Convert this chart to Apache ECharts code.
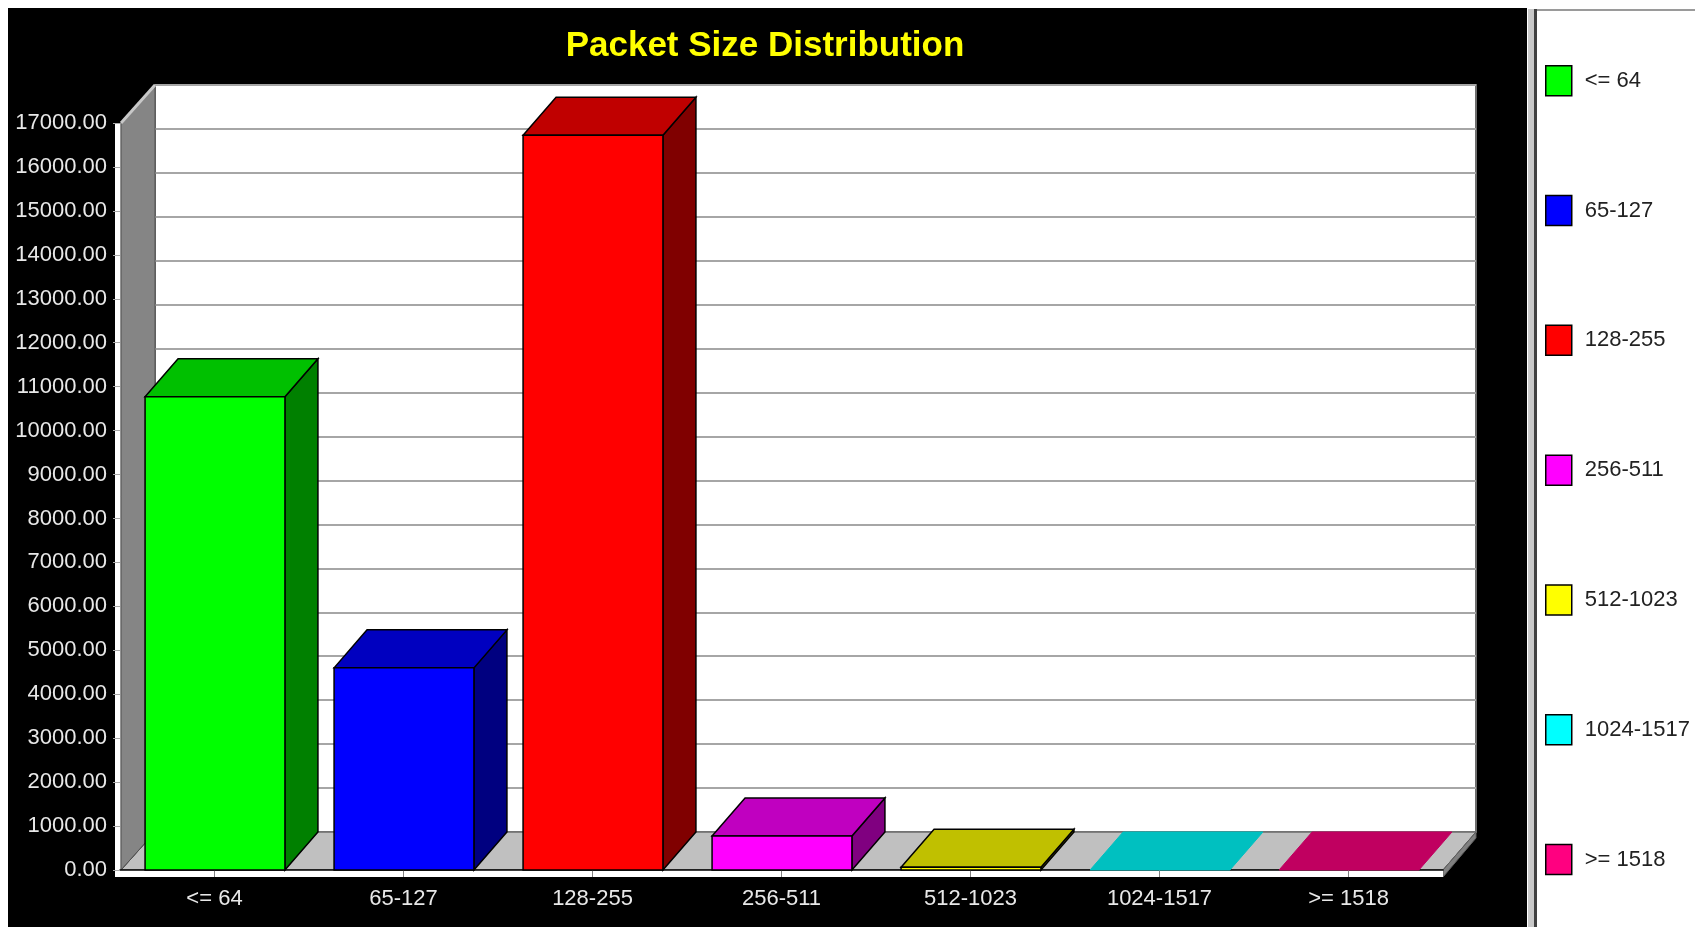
<!DOCTYPE html>
<html>
<head>
<meta charset="utf-8">
<title>Packet Size Distribution</title>
<style>html,body{margin:0;padding:0;background:#fff}#c{width:1695px;height:927px}</style>
<script src="https://cdn.jsdelivr.net/npm/echarts@6/dist/echarts.min.js"></script>
</head>
<body>
<div id="c"></div>
<script>
const chartTitle = 'Packet Size Distribution';
const categories = ['<= 64', '65-127', '128-255', '256-511', '512-1023', '1024-1517', '>= 1518'];
const packetCounts = [10770, 4600, 16720, 775, 60, 0, 0];
const axisMin = 0, axisMax = 17000, axisStep = 1000;

const frontColors = ['#00ff00', '#0000ff', '#ff0000', '#ff00ff', '#ffff00', '#00ffff', '#ff0080'];
const topColors = ['#00c000', '#0000c0', '#c00000', '#c000c0', '#c0c000', '#00c0c0', '#c00060'];
const sideColors = ['#008000', '#000080', '#800000', '#800080', '#808000', '#008080', '#800040'];

const FONT = '"Liberation Sans",Arial,sans-serif';
const frontBox = { left: 120, top: 123, width: 1323, height: 747 };
const DX = 34, DY = 38;
const right = frontBox.left + frontBox.width, bottom = frontBox.top + frontBox.height;

function box3d(i) {
  return function (params, api) {
    const base = api.coord([api.value(0), 0]);
    const top = api.coord([api.value(0), api.value(1)]);
    const w = api.size([1, 0])[0] * 0.74;
    const x0 = base[0] - w / 2 + 0.5, x1 = x0 + w, yb = base[1], yt = top[1];
    const dx = 33, dy = 38;
    const line = { stroke: '#000', lineWidth: 1.5 };
    const children = [];
    if (yb - yt > 0.5) {
      children.push({ type: 'polygon', shape: { points: [[x1, yt], [x1 + dx, yt - dy], [x1 + dx, yb - dy], [x1, yb]] },
        style: Object.assign({ fill: sideColors[i] }, line) });
    }
    children.push({ type: 'polygon', shape: { points: [[x0, yt], [x0 + dx, yt - dy], [x1 + dx, yt - dy], [x1, yt]] },
      style: yb - yt > 0.5 ? Object.assign({ fill: topColors[i] }, line) : { fill: topColors[i], stroke: topColors[i], lineWidth: 1 } });
    if (yb - yt > 0.5) {
      children.push({ type: 'rect', shape: { x: x0, y: yt, width: w, height: yb - yt },
        style: Object.assign({ fill: frontColors[i] }, line) });
    }
    return { type: 'group', children: children };
  };
}

const option = {
  animation: false,
  backgroundColor: '#ffffff',
  textStyle: { fontFamily: FONT },
  title: {
    text: chartTitle, left: 760, top: 24, textAlign: 'center',
    textStyle: { color: '#ffff00', fontSize: 35, fontWeight: 'bold', fontFamily: FONT }
  },
  legend: {
    orient: 'vertical', left: 1545, top: 65, padding: 0,
    data: categories,
    itemWidth: 26, itemHeight: 30, itemGap: 98.3,
    selectedMode: false,
    icon: 'rect',
    itemStyle: { borderColor: '#000', borderWidth: 1.5 },
    textStyle: { color: '#222', fontSize: 22, fontFamily: FONT, padding: [0, 0, 0, 8] },
    z: 4
  },
  grid: [
    { left: frontBox.left + DX + 1, top: frontBox.top - DY, width: frontBox.width - 2, height: frontBox.height,
      outerBoundsMode: 'none',
      show: true, backgroundColor: '#ffffff', borderColor: '#6e6e6e', borderWidth: 2 },
    { left: frontBox.left, top: frontBox.top, width: frontBox.width, height: frontBox.height, outerBoundsMode: 'none' }
  ],
  xAxis: [
    { gridIndex: 0, type: 'category', data: categories, show: false },
    { gridIndex: 1, type: 'category', data: categories, z: 2,
      axisLine: { show: true, lineStyle: { color: '#000', width: 1.5 } },
      axisTick: { show: true, alignWithLabel: true, inside: false, length: 7, lineStyle: { color: '#808080', width: 1 } },
      axisLabel: { color: '#e8e8e8', fontSize: 22, margin: 18, fontFamily: FONT, interval: 0 } }
  ],
  yAxis: [
    { gridIndex: 0, type: 'value', min: axisMin, max: axisMax, interval: axisStep,
      axisLine: { show: false }, axisTick: { show: false }, axisLabel: { show: false },
      splitLine: { show: true, lineStyle: { color: '#a6a6a6', width: 2 } } },
    { gridIndex: 1, type: 'value', min: axisMin, max: axisMax, interval: axisStep, z: 2,
      axisLine: { show: false },
      axisTick: { show: true, length: 7, lineStyle: { color: '#a8a8a8', width: 1 } },
      splitLine: { show: false },
      axisLabel: { color: '#e8e8e8', fontSize: 22, margin: 13, fontFamily: FONT, padding: [4, 0, 0, 0],
        formatter: function (v) { return v.toFixed(2); } } }
  ],
  series: categories.map(function (name, i) {
    return {
      type: 'custom', name: name, xAxisIndex: 1, yAxisIndex: 1, z: 3, clip: false,
      itemStyle: { color: frontColors[i] },
      encode: { x: 0, y: 1 },
      data: [[name, packetCounts[i]]],
      renderItem: box3d(i)
    };
  }),
  graphic: { elements: [
    { type: 'rect', z: -5, silent: true, shape: { x: 8, y: 8, width: 1519, height: 919 }, style: { fill: '#000' } },
    { type: 'rect', z: -5, silent: true, shape: { x: 1528, y: 9, width: 6, height: 918 }, style: { fill: '#c8c8c8' } },
    { type: 'rect', z: -5, silent: true, shape: { x: 1534, y: 9, width: 3, height: 918 }, style: { fill: '#404040' } },
    { type: 'rect', z: -5, silent: true, shape: { x: 1537, y: 9, width: 158, height: 2 }, style: { fill: '#9a9a9a' } },
    { type: 'polygon', z: 1, silent: true, shape: { points: [
        [frontBox.left + 1, bottom], [frontBox.left + DX + 1, bottom - DY], [right + DX - 1, bottom - DY], [right, bottom]] },
      style: { fill: '#c0c0c0', stroke: '#404040', lineWidth: 1 } },
    { type: 'polygon', z: 1, silent: true, shape: { points: [
        [frontBox.left + 1, frontBox.top], [frontBox.left + DX + 1, frontBox.top - DY],
        [frontBox.left + DX + 1, bottom - DY], [frontBox.left + 1, bottom]] },
      style: { fill: '#858585', stroke: '#505050', lineWidth: 1 } },
    { type: 'line', z: 1, silent: true, shape: { x1: frontBox.left + 1, y1: frontBox.top, x2: frontBox.left + DX + 1, y2: frontBox.top - DY },
      style: { stroke: '#c8c8c8', lineWidth: 3 } },
    { type: 'polygon', z: 1, silent: true, shape: { points: [
        [right, bottom], [right + DX - 1, bottom - DY], [right + DX - 1, bottom - DY + 6], [right, bottom + 7]] },
      style: { fill: '#808080', stroke: '#606060', lineWidth: 1 } },
    { type: 'rect', z: 1, silent: true, shape: { x: 115, y: frontBox.top, width: 5.5, height: bottom + 7 - frontBox.top }, style: { fill: '#ffffff' } },
    { type: 'rect', z: 1, silent: true, shape: { x: 115, y: bottom, width: right - 115, height: 7 }, style: { fill: '#ffffff' } }
  ] }
};

const chart = echarts.init(document.getElementById('c'), null, { renderer: 'canvas', width: 1695, height: 927 });
chart.setOption(option);
</script>
</body>
</html>
